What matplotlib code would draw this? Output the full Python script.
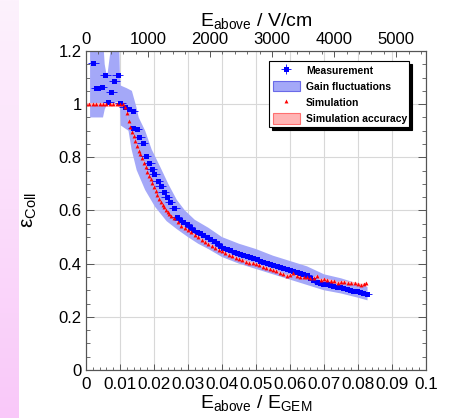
import numpy as np
import matplotlib
matplotlib.use("Agg")
import matplotlib.pyplot as plt
from matplotlib.patches import Patch
from matplotlib.lines import Line2D
from matplotlib.ticker import MultipleLocator, FuncFormatter

plt.rcParams['font.family'] = ['Liberation Sans', 'DejaVu Sans']
plt.rcParams['mathtext.fontset'] = 'custom'
plt.rcParams['mathtext.rm'] = 'Liberation Sans'
plt.rcParams['mathtext.it'] = 'Liberation Sans:italic'

# ---------------- data ----------------
meas_x = [0.0021, 0.0030, 0.0036, 0.0046, 0.0057, 0.0066, 0.0074, 0.0083, 0.0093, 0.0101,
          0.0114, 0.0126, 0.0138, 0.0139, 0.0149, 0.0157, 0.0167, 0.0176, 0.0186, 0.0193,
          0.0201, 0.0211, 0.0220, 0.0228, 0.0237, 0.0247, 0.0259, 0.0267, 0.0276, 0.0286,
          0.0296, 0.0306, 0.0316, 0.0325, 0.0335, 0.0345, 0.0355, 0.0365, 0.0375, 0.0384,
          0.0394, 0.0404, 0.0414, 0.0424, 0.0434, 0.0443, 0.0453, 0.0463, 0.0473, 0.0482,
          0.0492, 0.0502, 0.0512, 0.0522, 0.0531, 0.0541, 0.0551, 0.0561, 0.0571, 0.0580,
          0.0590, 0.0600, 0.0610, 0.0620, 0.0629, 0.0639, 0.0649, 0.0659, 0.0669, 0.0678,
          0.0688, 0.0698, 0.0708, 0.0718, 0.0727, 0.0737, 0.0747, 0.0757, 0.0767, 0.0776,
          0.0786, 0.0796, 0.0806, 0.0816, 0.0826]
meas_y = [1.154, 1.061, 1.060, 1.064, 1.109, 1.008, 1.045, 1.086, 1.109, 1.005,
          0.990, 0.982, 0.976, 0.910, 0.906, 0.875, 0.855, 0.805, 0.780, 0.755,
          0.736, 0.711, 0.692, 0.671, 0.652, 0.633, 0.608, 0.577, 0.564, 0.556,
          0.548, 0.537, 0.528, 0.520, 0.514, 0.508, 0.500, 0.492, 0.484, 0.476,
          0.467, 0.460, 0.455, 0.450, 0.443, 0.439, 0.436, 0.433, 0.430, 0.424,
          0.420, 0.416, 0.410, 0.405, 0.401, 0.398, 0.395, 0.390, 0.386, 0.382,
          0.379, 0.376, 0.372, 0.368, 0.364, 0.360, 0.356, 0.346, 0.337, 0.330,
          0.326, 0.324, 0.322, 0.319, 0.316, 0.314, 0.311, 0.308, 0.305, 0.302,
          0.299, 0.296, 0.292, 0.288, 0.285]
meas_xerr = 0.0016
meas_yerr = 0.004

sim_x = [0.000, 0.001, 0.002, 0.003, 0.004, 0.005, 0.006, 0.007, 0.008, 0.009, 0.010, 0.011,
         0.0115, 0.012, 0.0125, 0.013, 0.0135, 0.014, 0.0145, 0.015, 0.0155, 0.016, 0.0165,
         0.017, 0.0175, 0.018, 0.0185, 0.019, 0.0195, 0.020, 0.0205, 0.021, 0.0215, 0.022,
         0.0225, 0.023, 0.0235, 0.024, 0.0245, 0.025, 0.026, 0.027, 0.028, 0.029, 0.030,
         0.031, 0.032, 0.033, 0.034, 0.035, 0.036, 0.037, 0.038, 0.039, 0.040, 0.041, 0.042,
         0.043, 0.044, 0.045, 0.046, 0.047, 0.048, 0.049, 0.050, 0.051, 0.052, 0.053, 0.054,
         0.055, 0.056, 0.057, 0.058, 0.059, 0.060, 0.061, 0.062, 0.063, 0.064, 0.065, 0.066,
         0.067, 0.068, 0.069, 0.070, 0.071, 0.072, 0.073, 0.074, 0.075, 0.076, 0.077, 0.078,
         0.079, 0.080, 0.081, 0.0818, 0.0824]
sim_y = [1.0, 1.0, 1.0, 1.0, 1.0, 1.0, 1.0, 1.0, 1.0, 1.0, 1.0, 1.0,
         0.990, 0.965, 0.935, 0.915, 0.897, 0.882, 0.860, 0.842, 0.825, 0.812, 0.797,
         0.780, 0.762, 0.745, 0.730, 0.717, 0.703, 0.688, 0.675, 0.660, 0.645, 0.633,
         0.622, 0.612, 0.602, 0.594, 0.587, 0.580, 0.572, 0.555, 0.542, 0.533, 0.525,
         0.518, 0.508, 0.500, 0.490, 0.481, 0.474, 0.467, 0.460, 0.452, 0.446, 0.440, 0.434,
         0.428, 0.422, 0.416, 0.412, 0.408, 0.404, 0.401, 0.398, 0.394, 0.388, 0.383, 0.380,
         0.376, 0.371, 0.366, 0.360, 0.354, 0.358, 0.364, 0.354, 0.351, 0.350, 0.349, 0.347,
         0.345, 0.354, 0.338, 0.341, 0.338, 0.336, 0.333, 0.328, 0.330, 0.332, 0.329, 0.328,
         0.326, 0.324, 0.320, 0.322, 0.326]
sim_acc = 0.004

# gain fluctuation band (upper edge, lower edge)
band_up_x = [0.0012, 0.0050, 0.0055, 0.0062, 0.0070, 0.0077, 0.0097, 0.0100, 0.0102, 0.0120,
             0.0135, 0.0148, 0.0155, 0.0174, 0.0193, 0.0218, 0.0242, 0.0267, 0.0291, 0.0320,
             0.0360, 0.0400, 0.0450, 0.0500, 0.0550, 0.0600, 0.0650, 0.0700, 0.0750, 0.0800,
             0.0828]
band_up_y = [1.25, 1.25, 1.15, 1.10, 1.18, 1.25, 1.25, 1.10, 1.07, 1.06,
             1.05, 0.99, 0.95, 0.90, 0.83, 0.765, 0.70, 0.64, 0.60, 0.565,
             0.535, 0.50, 0.475, 0.455, 0.43, 0.41, 0.39, 0.36, 0.345, 0.325,
             0.312]
band_lo_x = [0.0012, 0.0050, 0.0055, 0.0062, 0.0100, 0.0102, 0.0125, 0.0134, 0.0149, 0.0174,
             0.0203, 0.0237, 0.0267, 0.0300, 0.0330, 0.0360, 0.0400, 0.0450, 0.0500, 0.0550,
             0.0600, 0.0650, 0.0700, 0.0750, 0.0800, 0.0828]
band_lo_y = [0.95, 0.95, 0.98, 1.00, 1.01, 0.92, 0.90, 0.83, 0.752, 0.677,
             0.614, 0.56, 0.53, 0.50, 0.475, 0.455, 0.425, 0.40, 0.38, 0.36,
             0.34, 0.32, 0.30, 0.288, 0.272, 0.262]

x_ticks = [0, 0.01, 0.02, 0.03, 0.04, 0.05, 0.06, 0.07, 0.08, 0.09, 0.1]
y_ticks = [0, 0.2, 0.4, 0.6, 0.8, 1.0, 1.2]
top_ticks = [0, 1000, 2000, 3000, 4000, 5000]
top_max = 5480

legend_labels = ['Measurement', 'Gain fluctuations', 'Simulation', 'Simulation accuracy']

# ---------------- figure ----------------
W, H = 454, 418
fig = plt.figure(figsize=(W / 100, H / 100), dpi=100)
fig.patch.set_facecolor('white')

# pink strip on the left
sax = fig.add_axes([0, 0, 19 / W, 1])
grad = np.linspace(0, 1, 256).reshape(-1, 1)
top_c = np.array([253, 242, 253]) / 255
bot_c = np.array([249, 200, 249]) / 255
img = top_c[None, None, :] * (1 - grad[:, :, None]) + bot_c[None, None, :] * grad[:, :, None]
sax.imshow(img, aspect='auto', extent=[0, 1, 0, 1], origin='upper')
sax.set_axis_off()

ax = fig.add_axes([86 / W, 48 / H, 340 / W, 319 / H])
ax.set_xlim(0, 0.1)
ax.set_ylim(0, 1.2)

band_poly_x = list(band_up_x) + list(band_lo_x[::-1])
band_poly_y = list(band_up_y) + list(band_lo_y[::-1])
ax.fill(band_poly_x, band_poly_y, facecolor='#a4a8f8', edgecolor='none', zorder=2)

sx = np.array(sim_x)
sy = np.array(sim_y)
ax.fill_between(sx, sy - sim_acc, sy + sim_acc, facecolor='#ffb4b4', edgecolor='none', zorder=3)

ebc = ax.errorbar(meas_x, meas_y, xerr=meas_xerr, yerr=meas_yerr, fmt='s', color='#0000ff',
                  ms=3.6, mew=0, elinewidth=0.6, capsize=0, zorder=4)
ax.plot(sim_x, sim_y, linestyle='none', marker='^', color='#ff0000', ms=2.8, mew=0, zorder=5)

ax.grid(True, color='#d8d8d8', linewidth=0.8, zorder=1)
ax.set_axisbelow(True)

ax.set_xticks(x_ticks)
ax.xaxis.set_minor_locator(MultipleLocator(0.002))
ax.set_yticks(y_ticks)
ax.yaxis.set_minor_locator(MultipleLocator(0.05))
ax.xaxis.set_major_formatter(FuncFormatter(lambda v, p: ('%g' % round(v, 3))))
ax.yaxis.set_major_formatter(FuncFormatter(lambda v, p: ('%g' % round(v, 2))))
ax.tick_params(axis='x', which='major', direction='in', length=4, width=0.7, color='#555555',
               labelsize=12.3, pad=5, top=False)
ax.tick_params(axis='x', which='minor', direction='in', length=2.5, width=0.6, color='#555555', top=False)
ax.tick_params(axis='y', which='major', direction='in', length=6, width=0.7, color='#555555',
               labelsize=12, pad=3, right=True)
ax.tick_params(axis='y', which='minor', direction='in', length=3, width=0.6, color='#555555', right=True)
for sp in ax.spines.values():
    sp.set_color('#555555')
    sp.set_linewidth(0.8)

ax.set_xlabel(r'$\mathrm{E_{above}\ /\ E_{GEM}}$', fontsize=14, labelpad=1)
ax.set_ylabel(r'$\mathrm{\varepsilon_{Coll}}$', fontsize=15, labelpad=14)

tax = ax.twiny()
tax.set_xlim(0, top_max)
tax.set_xticks(top_ticks)
tax.xaxis.set_minor_locator(MultipleLocator(200))
tax.tick_params(axis='x', which='major', direction='in', length=4, width=0.7, color='#555555',
                labelsize=12, pad=3)
tax.tick_params(axis='x', which='minor', direction='in', length=2.5, width=0.6, color='#555555')
tax.set_xlabel(r'$\mathrm{E_{above}\ /\ V/cm}$', fontsize=14, labelpad=4)
for sp in tax.spines.values():
    sp.set_color('#555555')
    sp.set_linewidth(0.8)

handles = [
    ebc,
    Patch(facecolor='#a4a8f8', edgecolor='#6a6ae8', linewidth=0.8),
    Line2D([], [], linestyle='none', marker='^', color='#ff0000', ms=2.8, mew=0),
    Patch(facecolor='#ffb4b4', edgecolor='#ff7070', linewidth=0.8),
]
leg = fig.legend(handles, legend_labels, loc='upper left',
                 bbox_to_anchor=(269 / W, 1 - 129 / H, 140 / W, 68 / H),
                 bbox_transform=fig.transFigure, mode='expand', borderaxespad=0,
                 prop={'family': 'Liberation Sans', 'weight': 'bold', 'size': 7.5},
                 frameon=True, fancybox=False, edgecolor='black', framealpha=1,
                 shadow={'color': 'black', 'alpha': 1}, handlelength=2.6, handleheight=1.2,
                 labelspacing=0.5, borderpad=0.35, handletextpad=0.6)
leg.get_frame().set_linewidth(0.8)

fig.savefig('out.png', dpi=100)
